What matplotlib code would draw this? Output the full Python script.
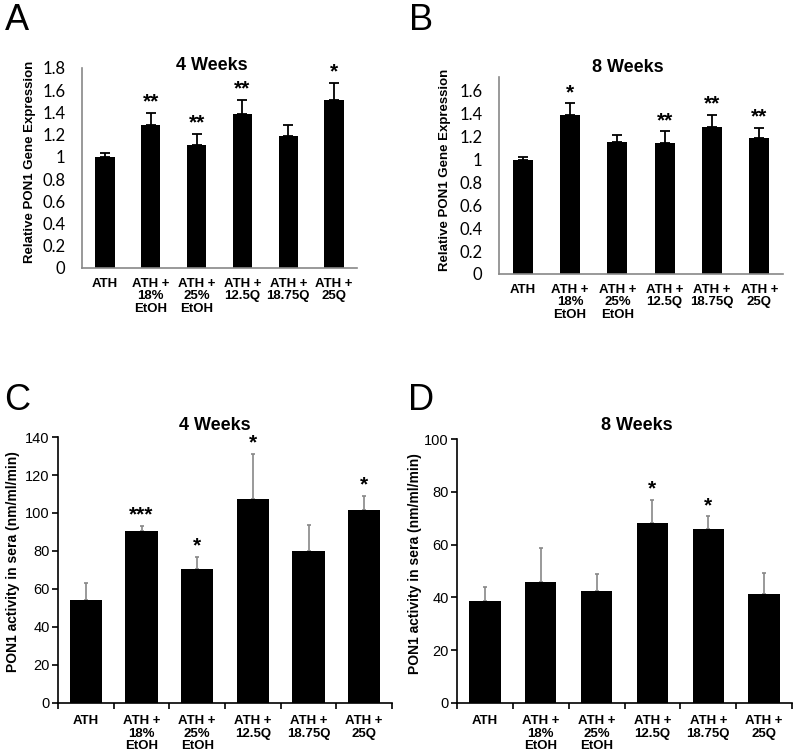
import matplotlib.pyplot as plt
import numpy as np

# dane
groups = ['ATH', 'ATH +\n18%\nEtOH', 'ATH +\n25%\nEtOH', 'ATH +\n12.5Q', 'ATH +\n18.75Q', 'ATH +\n25Q']

a_mean = [1.00, 1.29, 1.11, 1.39, 1.19, 1.515]
a_err = [0.035, 0.105, 0.095, 0.125, 0.095, 0.15]
a_stars = ['', '**', '**', '**', '', '*']

b_mean = [0.995, 1.385, 1.155, 1.146, 1.286, 1.184]
b_err = [0.025, 0.105, 0.055, 0.10, 0.10, 0.093]
b_stars = ['', '*', '', '**', '**', '**']

c_mean = [54.4, 90.7, 70.4, 107.5, 80.2, 101.6]
c_err = [8.8, 2.5, 6.6, 23.7, 13.5, 7.5]
c_stars = ['', '***', '*', '*', '', '*']

d_mean = [38.8, 46.0, 42.4, 68.3, 66.0, 41.2]
d_err = [5.1, 12.9, 6.4, 8.5, 4.7, 8.0]
d_stars = ['', '', '', '*', '*', '']

BOLD = 'Liberation Sans'

fig = plt.figure(figsize=(8, 7.54), dpi=100)


def px_axes(left, top, right, bottom):
    W, H = 800, 754
    return fig.add_axes([left / W, 1 - bottom / H, (right - left) / W, (bottom - top) / H])


def panel(ax, mean, err, stars, ylim, ticks, excel, ylabel, title, title_xy, ylab_x, width):
    x = np.arange(len(mean))
    ecol = 'black' if excel else '#888888'
    ax.bar(x, mean, width=width, color='black', zorder=2)
    ax.errorbar(x, mean, yerr=[np.zeros(len(err)), err], fmt='none', ecolor=ecol,
                elinewidth=1.3 if excel else 1.2, capsize=3.5 if excel else 1.5,
                capthick=1.3 if excel else 1.2, zorder=1)
    for xi, m, e, s in zip(x, mean, err, stars):
        if s:
            ax.annotate(s, (xi, m + e), xytext=(0, 1), textcoords='offset points',
                        ha='center', va='bottom', fontsize=15, fontweight='bold',
                        family=BOLD)
    ax.set_xlim(-0.5, len(mean) - 0.5)
    ax.set_ylim(*ylim)
    ax.set_yticks(ticks)
    ax.set_yticklabels([f'{t:g}' for t in ticks])
    ax.set_xticks(x)
    ax.set_xticklabels(groups, fontsize=9.5, fontweight='bold', family=BOLD, linespacing=1.05)
    for s in ['top', 'right']:
        ax.spines[s].set_visible(False)
    if excel:
        for s in ['left', 'bottom']:
            ax.spines[s].set_color('#888888')
            ax.spines[s].set_linewidth(1.2)
        ax.tick_params(axis='both', length=0)
        ax.tick_params(axis='y', pad=12, labelsize=12)
        ax.tick_params(axis='x', pad=7)
        for lab in ax.get_yticklabels():
            lab.set_family('Lato')
    else:
        ax.spines['left'].set_linewidth(1.2)
        ax.spines['bottom'].set_linewidth(1.2)
        ax.tick_params(axis='y', direction='out', length=4, width=1.2, pad=2, labelsize=10.5)
        ax.tick_params(axis='x', length=0, pad=9)
        ax.set_xticks(np.arange(len(mean) + 1) - 0.5, minor=True)
        ax.tick_params(axis='x', which='minor', direction='out', length=4, width=1.2)
        for lab in ax.get_yticklabels():
            lab.set_family(BOLD)
    ax.text(ylab_x, 0.53, ylabel, transform=ax.transAxes, rotation=90, ha='center',
            va='center', fontsize=9.5 if excel else 10, fontweight='bold', family=BOLD)
    fig.text(title_xy[0] / 800, 1 - title_xy[1] / 754, title, ha='center', va='center',
             fontsize=13, fontweight='bold', family=BOLD)


axA = px_axes(82, 68, 357, 268)
panel(axA, a_mean, a_err, a_stars, (0, 1.8), np.arange(0, 1.81, 0.2), True,
      'Relative PON1 Gene Expression', '4 Weeks', (212, 65), -0.19, 0.42)

axB = px_axes(499, 77, 783, 274)
panel(axB, b_mean, b_err, b_stars, (0, 1.72), np.arange(0, 1.61, 0.2), True,
      'Relative PON1 Gene Expression', '8 Weeks', (628, 68), -0.19, 0.42)

axC = px_axes(58, 437, 392, 703)
panel(axC, c_mean, c_err, c_stars, (0, 140), np.arange(0, 141, 20), False,
      'PON1 activity in sera (nm/ml/min)', '4 Weeks', (215, 425), -0.135, 0.58)

axD = px_axes(457, 439, 792, 703)
panel(axD, d_mean, d_err, d_stars, (0, 100), np.arange(0, 101, 20), False,
      'PON1 activity in sera (nm/ml/min)', '8 Weeks', (637, 425), -0.125, 0.56)

for letter, xx, yy in [('A', 17, 20), ('B', 421, 20), ('C', 17, 400), ('D', 421, 400)]:
    fig.text(xx / 800, 1 - yy / 754, letter, ha='center', va='center', fontsize=26,
             family=BOLD)

fig.savefig('out.png', dpi=100)
